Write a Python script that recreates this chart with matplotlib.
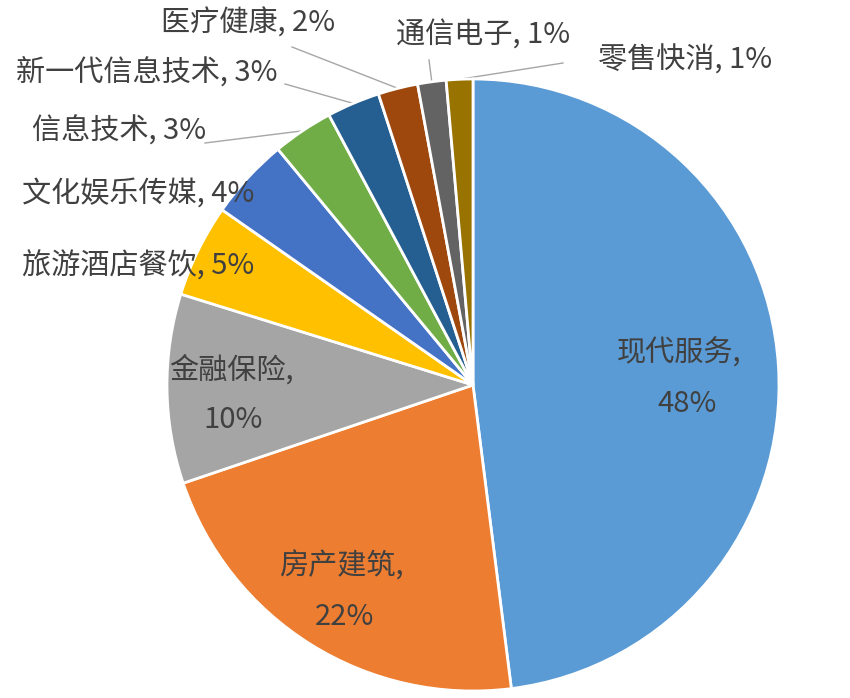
import numpy as np
import matplotlib
matplotlib.use("Agg")
import matplotlib.pyplot as plt

plt.rcParams['font.family'] = ['Noto Sans CJK SC', 'DejaVu Sans']

categories = ['现代服务', '房产建筑', '金融保险', '旅游酒店餐饮', '文化娱乐传媒',
              '信息技术', '新一代信息技术', '医疗健康', '通信电子', '零售快消']
values = [48.0, 21.8, 10.0, 4.9, 4.3, 3.2, 2.8, 2.1, 1.5, 1.4]
pct_labels = ['48%', '22%', '10%', '5%', '4%', '3%', '3%', '2%', '1%', '1%']
colors = ['#5B9BD5', '#ED7D31', '#A5A5A5', '#FFC000', '#4472C4',
          '#70AD47', '#255E91', '#9E480E', '#636363', '#997300']

W, H = 850, 698
CX, CY, R = 473, 385, 306


def px(x, y):
    return (x - CX) / R, (CY - y) / R


fig = plt.figure(figsize=(W / 100, H / 100), dpi=100)
ax = fig.add_axes([0, 0, 1, 1])

wedges, _ = ax.pie(values, colors=colors, startangle=90, counterclock=False,
                   radius=1.0, center=(0, 0),
                   wedgeprops=dict(edgecolor='white', linewidth=2.0))
ax.set_xlim(px(0, 0)[0], px(W, 0)[0])
ax.set_ylim(px(0, H)[1], px(0, 0)[1])
ax.set_aspect('equal')
ax.axis('off')

TC = '#404040'
FS = 21

mids = [(w.theta1 + w.theta2) / 2 for w in wedges]

# inside labels: index -> (radius factor, name x shift px, pct x shift px, y shift px)
inside = {0: (0.69, -5, 3, 7), 1: (0.80, -2, 1, -1), 2: (0.78, -3, -1, 7)}
for i, (rf, nx, dx, dy) in inside.items():
    a = np.deg2rad(mids[i])
    x, y = rf * np.cos(a), rf * np.sin(a) - dy / R
    ax.text(x + nx / R, y + 25 / R, categories[i] + ',', ha='center', va='center',
            fontsize=FS, color=TC)
    ax.text(x + dx / R, y - 25 / R, pct_labels[i], ha='center', va='center',
            fontsize=FS, color=TC)

# outside labels: (left px, center y px, leader start px or None)
outside = {
    3: (22, 266, None),
    4: (22, 194, None),
    5: (32, 131, (205, 143)),
    6: (16, 72, (285, 84)),
    7: (161, 24, (292, 47)),
    8: (396, 36, (429, 60)),
    9: (598, 61, (563, 63)),
}
for i, (lx, ly, lead) in outside.items():
    x, y = px(lx, ly)
    ax.text(x, y, categories[i] + ', ' + pct_labels[i], ha='left', va='center',
            fontsize=FS, color=TC)
    if lead is not None:
        a = np.deg2rad(mids[i])
        ex, ey = 1.0 * np.cos(a), 1.0 * np.sin(a)
        sx, sy = px(*lead)
        ax.plot([sx, ex], [sy, ey], color='#A6A6A6', lw=1.0, zorder=0.5)

fig.savefig('out.png', dpi=100, facecolor='white')
